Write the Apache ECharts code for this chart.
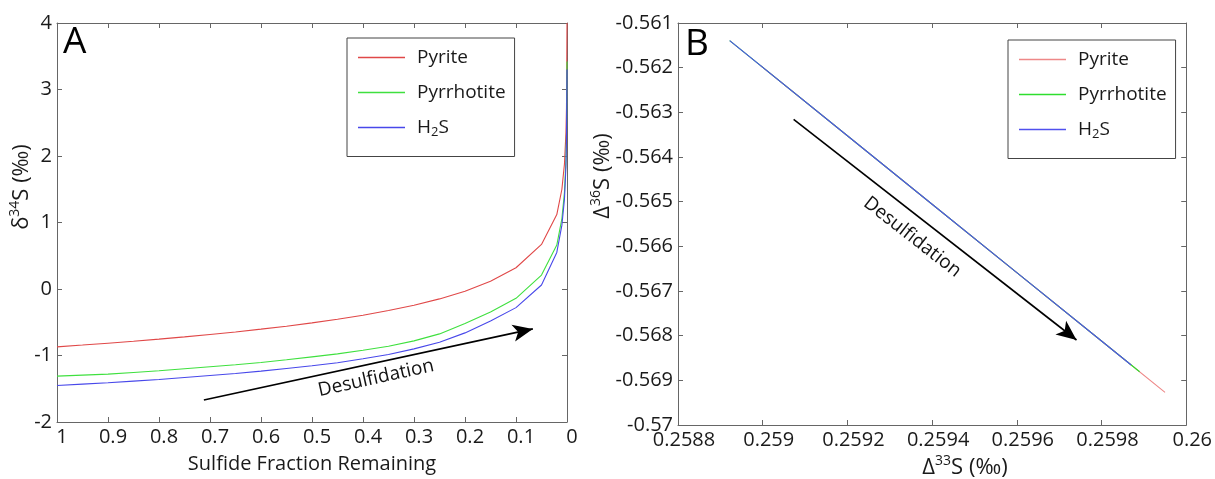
<!DOCTYPE html>
<html>
<head>
<meta charset="utf-8">
<script src="https://cdn.jsdelivr.net/npm/echarts@6/dist/echarts.min.js"></script>
<style>
html,body{margin:0;padding:0;background:#fff;}
#c{width:1215px;height:479px;}
</style>
</head>
<body>
<div id="c"></div>
<script>
// ---------- Panel A data ----------
const fracA = [1, 0.95, 0.9, 0.85, 0.8, 0.75, 0.7, 0.65, 0.6, 0.55, 0.5, 0.45, 0.4, 0.35, 0.3, 0.25, 0.2, 0.15, 0.1, 0.05, 0.02, 0.01, 0.005, 0.002, 0.001, 0];
const pyriteA = [-0.87, -0.843, -0.815, -0.785, -0.754, -0.72, -0.684, -0.646, -0.604, -0.559, -0.51, -0.455, -0.394, -0.324, -0.244, -0.149, -0.035, 0.116, 0.32, 0.67, 1.12, 1.5, 1.88, 2.36, 2.72, 4.0];
const pyrrhotiteA = [-1.31, -1.295, -1.28, -1.255, -1.23, -1.2, -1.17, -1.14, -1.105, -1.065, -1.02, -0.975, -0.92, -0.86, -0.78, -0.675, -0.52, -0.345, -0.14, 0.21, 0.66, 1.06, 1.45, 1.95, 2.35, 3.42];
const h2sA = [-1.45, -1.43, -1.41, -1.385, -1.36, -1.33, -1.30, -1.27, -1.235, -1.195, -1.155, -1.11, -1.05, -0.985, -0.90, -0.80, -0.66, -0.48, -0.28, 0.06, 0.55, 0.96, 1.35, 1.85, 2.25, 3.3];
// arrow A: [tail, head] in data coords; label anchor
const arrowA = [[0.712, -1.67], [0.067, -0.60]];
const labelA = [0.3745, -1.343];

// ---------- Panel B data ----------
const pyriteBx = [0.258995, 0.2592, 0.2594, 0.2596, 0.2598, 0.25995];
const pyriteBy = [-0.561955, -0.563525, -0.565057, -0.566588, -0.568120, -0.569268];
const pyrrhotiteBx = [0.258922, 0.2592, 0.2594, 0.2596, 0.2598, 0.25989];
const pyrrhotiteBy = [-0.561396, -0.563525, -0.565057, -0.566588, -0.568120, -0.568809];
const h2sBx = [0.258922, 0.2592, 0.2594, 0.2596, 0.2598, 0.25987];
const h2sBy = [-0.561396, -0.563525, -0.565057, -0.566588, -0.568120, -0.568656];
const arrowB = [[0.259073, -0.563156], [0.259741, -0.568097]];
const labelB = [0.259353, -0.565791];

const seriesNames = ['Pyrite', 'Pyrrhotite', 'H2S'];
const colorsA = ['#e04848', '#3fe03f', '#4848ea'];
const colorsB = ['#ee8888', '#2ede2e', '#5050ee'];

const FONT = 'Open Sans';
const axisColor = '#666';
const labelColor = '#1a1a1a';
const TICK_FS = 20;

function zip(xs, ys) { return xs.map((x, i) => [x, ys[i]]); }

const richName = {
  n: {fontSize: 22, fontFamily: FONT, fill: labelColor, color: labelColor, lineHeight: 28, verticalAlign: 'middle'},
  s: {fontSize: 14, fontFamily: FONT, fill: labelColor, color: labelColor, lineHeight: 15, verticalAlign: 'top'}
};
const richLegend = {
  n: {fontSize: 19, fontFamily: FONT, color: labelColor, lineHeight: 22, verticalAlign: 'middle'},
  b: {fontSize: 13, fontFamily: FONT, color: labelColor, lineHeight: 13, verticalAlign: 'bottom'}
};

function baseAxis(gridIndex, opts) {
  return Object.assign({
    type: 'value', gridIndex: gridIndex,
    axisLine: {show: true, onZero: false, lineStyle: {color: axisColor, width: 1}},
    axisTick: {show: true, inside: true, length: 5, lineStyle: {color: axisColor}},
    splitLine: {show: false}
  }, opts);
}
function mirror(base, pos) {
  return Object.assign({}, base, {position: pos, name: '', axisLabel: {show: false}});
}

const xA = baseAxis(0, {position: 'bottom', min: 0, max: 1, interval: 0.1, inverse: true,
  name: 'Sulfide Fraction Remaining', nameLocation: 'middle', nameGap: 32,
  nameTextStyle: {fontSize: 20, fontFamily: FONT, color: labelColor},
  axisLabel: {color: labelColor, fontSize: TICK_FS, fontFamily: FONT, margin: 5, padding: [0, 0, 0, 10], formatter: v => String(+v.toFixed(1))}});
const yA = baseAxis(0, {position: 'left', min: -2, max: 4, interval: 1,
  axisLabel: {color: labelColor, fontSize: TICK_FS, fontFamily: FONT, margin: 5}});
const xB = baseAxis(1, {position: 'bottom', min: 0.2588, max: 0.26, interval: 0.0002,
  axisLabel: {color: labelColor, fontSize: TICK_FS, fontFamily: FONT, margin: 5, padding: [0, 0, 0, 12], formatter: v => String(+v.toFixed(4))}});
const yB = baseAxis(1, {position: 'left', min: -0.57, max: -0.561, interval: 0.001,
  axisLabel: {color: labelColor, fontSize: TICK_FS, fontFamily: FONT, margin: 5, formatter: v => String(+v.toFixed(3))}});

const series = [];
const valsA = [pyriteA, pyrrhotiteA, h2sA];
valsA.forEach((vals, i) => {
  series.push({
    name: seriesNames[i], type: 'line', xAxisIndex: 0, yAxisIndex: 0,
    data: zip(fracA, vals), showSymbol: false, symbol: 'none',
    lineStyle: {color: colorsA[i], width: 1.1}, itemStyle: {color: colorsA[i]},
    animation: false, silent: true, z: 2 + i
  });
});
const valsB = [[pyriteBx, pyriteBy], [pyrrhotiteBx, pyrrhotiteBy], [h2sBx, h2sBy]];
valsB.forEach((v, i) => {
  series.push({
    name: seriesNames[i] + ' ', type: 'line', xAxisIndex: 2, yAxisIndex: 2,
    data: zip(v[0], v[1]), showSymbol: false, symbol: 'none',
    lineStyle: {color: colorsB[i], width: 1.1}, itemStyle: {color: colorsB[i]},
    animation: false, silent: true, z: 2 + i
  });
});
function arrowSeries(xi, yi, arr) {
  return {
    type: 'line', xAxisIndex: xi, yAxisIndex: yi, data: [], silent: true, animation: false,
    markLine: {
      silent: true, animation: false,
      symbol: ['none', 'arrow'], symbolSize: [13, 20],
      lineStyle: {color: '#000', width: 1.6, type: 'solid'},
      label: {show: false},
      data: [[{coord: arr[0]}, {coord: arr[1]}]]
    }
  };
}
series.push(arrowSeries(0, 0, arrowA));
series.push(arrowSeries(2, 2, arrowB));

function legendFormatter(name) {
  const n = name.trim();
  if (n === 'H2S') return '{n|H}{b|2}{n|S}';
  return '{n|' + n + '}';
}
function legendOpt(data, left, top) {
  return {
    data: data, left: left, top: top, orient: 'vertical',
    icon: 'rect', itemWidth: 47, itemHeight: 1.5, itemGap: 16,
    padding: [10, 9, 18, 11],
    borderColor: '#444', borderWidth: 1, backgroundColor: '#fff',
    formatter: legendFormatter,
    textStyle: {rich: richLegend, padding: [0, 0, 0, 7]},
    selectedMode: false
  };
}

const option = {
  animation: false,
  backgroundColor: '#fff',
  grid: [
    {left: 57, top: 23, width: 510, height: 402, containLabel: false},
    {left: 678, top: 23, width: 510, height: 402, containLabel: false}
  ],
  xAxis: [xA, mirror(xA, 'top'), xB, mirror(xB, 'top')].map((a, i) => Object.assign(a, {gridIndex: i < 2 ? 0 : 1})),
  yAxis: [yA, mirror(yA, 'right'), yB, mirror(yB, 'right')].map((a, i) => Object.assign(a, {gridIndex: i < 2 ? 0 : 1})),
  legend: [
    legendOpt(seriesNames, 347, 38),
    legendOpt(seriesNames.map(s => s + ' '), 1008, 40)
  ],
  series: series
};

const chart = echarts.init(document.getElementById('c'), null, {renderer: 'canvas'});
chart.setOption(option);

const pA = chart.convertToPixel({xAxisIndex: 0, yAxisIndex: 0}, labelA);
const pB = chart.convertToPixel({xAxisIndex: 2, yAxisIndex: 2}, labelB);
function richText(x, y, text, rot) {
  return {type: 'text', x: x, y: y, rotation: rot,
    style: {text: text, rich: richName, fontSize: 22, fontFamily: FONT, fill: labelColor, align: 'center', verticalAlign: 'middle'}};
}
chart.setOption({
  graphic: [
    {type: 'text', left: 63, top: 24, style: {text: 'A', fontSize: 37, fontFamily: FONT, fill: '#000'}},
    {type: 'text', left: 685, top: 26, style: {text: 'B', fontSize: 37, fontFamily: FONT, fill: '#000'}},
    richText(22, 187, '{n|δ}{s|34}{n|S (‰)}', Math.PI / 2),
    richText(603, 176, '{n|Δ}{s|36}{n|S (‰)}', Math.PI / 2),
    richText(965, 468, '{n|Δ}{s|33}{n|S (‰)}', 0),
    {type: 'text', x: pA[0], y: pA[1], rotation: 12.5 * Math.PI / 180,
      style: {text: 'Desulfidation', fontSize: 19, fontFamily: FONT, fill: '#111', align: 'center', verticalAlign: 'middle'}},
    {type: 'text', x: pB[0], y: pB[1], rotation: -38 * Math.PI / 180,
      style: {text: 'Desulfidation', fontSize: 19, fontFamily: FONT, fill: '#111', align: 'center', verticalAlign: 'middle'}}
  ]
});
</script>
</body>
</html>
